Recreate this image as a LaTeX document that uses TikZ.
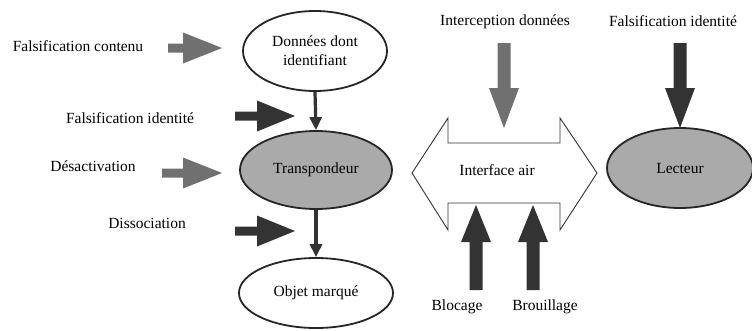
\documentclass[tikz,border=0pt]{standalone}
\usepackage{fontspec}
\setmainfont{Liberation Serif}
\newfontfamily\diagfont{Liberation Serif}
\usetikzlibrary{arrows.meta,shapes.geometric}
\definecolor{arrgray}{HTML}{707070}
\definecolor{arrdark}{HTML}{333333}
\definecolor{ellgray}{HTML}{AAAAAA}
\newcommand{\harrow}[5]{% y, x0, xbase, xtip, color
  \fill[#5] (#2,#1-4.5) -- (#3,#1-4.5) -- (#3,#1-15.5) -- (#4,#1) -- (#3,#1+15.5) -- (#3,#1+4.5) -- (#2,#1+4.5) -- cycle;}
\newcommand{\varrow}[5]{% x, y0, ybase, ytip, color
  \fill[#5] (#1-6.5,#2) -- (#1-6.5,#3) -- (#1-15,#3) -- (#1,#4) -- (#1+15,#3) -- (#1+6.5,#3) -- (#1+6.5,#2) -- cycle;}
\begin{document}
\begin{tikzpicture}[x=1pt,y=-1pt,
  lab/.style={font=\diagfont\fontsize{15.5}{19}\selectfont, inner sep=0pt, align=center},
  ell/.style={ellipse, draw=black!85, line width=1.8pt, minimum width=#1, inner sep=0pt, font=\diagfont\fontsize{15.5}{19}\selectfont, align=center},
  conn/.style={draw=arrdark, line width=3.2pt, -{Triangle[length=13pt,width=12pt]}}]
\useasboundingbox (0,0) rectangle (752,330);
% ellipses
\node[ell=144pt, minimum height=80pt, fill=white] (donnees) at (315,51) {Données dont\\identifiant};
\node[ell=152pt, minimum height=78pt, fill=ellgray] (transp) at (316,170) {Transpondeur};
\node[ell=154pt, minimum height=70pt, fill=white] (objet) at (316,293) {Objet marqué};
\node[ell=146pt, minimum height=80pt, fill=ellgray] (lecteur) at (680,168) {Lecteur};
% connectors
\draw[conn] (donnees.south) -- (transp.north);
\draw[conn] (transp.south) -- (objet.north);
% interface air double arrow
\draw[fill=white, draw=black!80, line width=0.9pt] (412,173) -- (448,118) -- (448,143) -- (560,143) -- (560,118) -- (597,173) -- (560,230) -- (560,203) -- (448,203) -- (448,230) -- cycle;
\node[lab] (iface) at (497,170) {Interface air};
% left labels and arrows
\node[lab] (fc) at (78,46) {Falsification contenu};
\harrow{48}{168}{183}{222}{arrgray}
\node[lab] (fi) at (130,118) {Falsification identité};
\harrow{116}{235}{257}{295}{arrdark}
\node[lab] (des) at (93,166) {Désactivation};
\harrow{173}{162}{183}{222}{arrgray}
\node[lab] (dis) at (147,223) {Dissociation};
\harrow{231}{235}{257}{295}{arrdark}
% top labels and arrows
\node[lab] (icp) at (505,22) {Interception données};
\varrow{504}{43}{88}{128}{arrgray}
\node[lab] (fi2) at (673,21) {Falsification identité};
\varrow{680}{43}{88}{128}{arrdark}
% bottom labels and arrows
\varrow{476}{290}{242}{205}{arrdark}
\varrow{533}{290}{242}{205}{arrdark}
\node[lab] (blo) at (457,307) {Blocage};
\node[lab] (bro) at (545,307) {Brouillage};
\end{tikzpicture}
\end{document}
